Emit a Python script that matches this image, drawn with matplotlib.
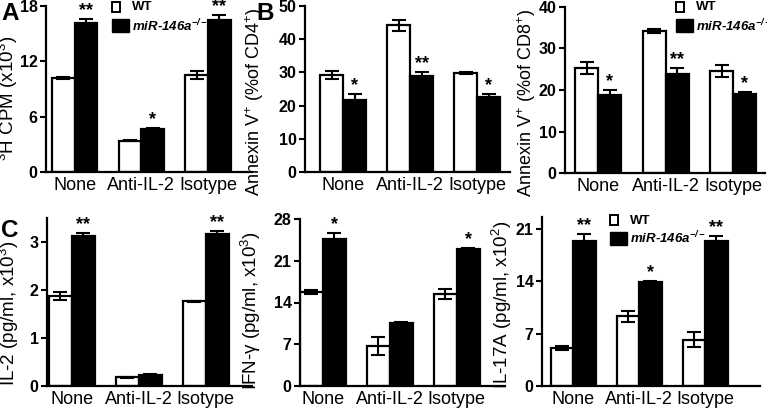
import numpy as np
import matplotlib
matplotlib.use("Agg")
from matplotlib import pyplot as plt
from matplotlib.patches import Rectangle

plt.rcParams['font.family'] = ['Liberation Sans', 'DejaVu Sans']
plt.rcParams['mathtext.default'] = 'regular'

groups = ["None", "Anti-IL-2", "Isotype"]

# A: 3H thymidine incorporation
cpm_wt = [10.2, 3.4, 10.5]
cpm_wt_err = [0.12, 0.08, 0.4]
cpm_ko = [16.2, 4.7, 16.5]
cpm_ko_err = [0.43, 0.08, 0.52]
cpm_sig = ["**", "*", "**"]

# B: Annexin V+ of CD4+
cd4_wt = [29.2, 44.2, 29.9]
cd4_wt_err = [1.2, 1.7, 0.3]
cd4_ko = [21.7, 28.8, 22.5]
cd4_ko_err = [1.7, 1.2, 1.0]
cd4_sig = ["*", "**", "*"]

# B: Annexin V+ of CD8+
cd8_wt = [25.3, 34.3, 24.6]
cd8_wt_err = [1.4, 0.5, 1.5]
cd8_ko = [18.8, 23.8, 19.0]
cd8_ko_err = [1.2, 1.4, 0.4]
cd8_sig = ["*", "**", "*"]

# C: IL-2
il2_wt = [1.88, 0.18, 1.77]
il2_wt_err = [0.08, 0.01, 0.01]
il2_ko = [3.12, 0.22, 3.16]
il2_ko_err = [0.07, 0.02, 0.07]
il2_sig = ["**", "", "**"]

# C: IFN-g
ifng_wt = [15.8, 6.7, 15.4]
ifng_wt_err = [0.3, 1.5, 0.8]
ifng_ko = [24.7, 10.6, 22.9]
ifng_ko_err = [1.0, 0.2, 0.3]
ifng_sig = ["*", "", "*"]

# C: IL-17A
il17_wt = [5.1, 9.3, 6.2]
il17_wt_err = [0.3, 0.7, 1.0]
il17_ko = [19.4, 13.9, 19.4]
il17_ko_err = [0.9, 0.1, 0.6]
il17_sig = ["**", "*", "**"]

W, H = 767, 408
fig = plt.figure(figsize=(W / 100, H / 100), dpi=100)


def px_axes(l, r, t, b):
    # pixel box -> figure fraction
    return fig.add_axes([l / W, 1 - b / H, (r - l) / W, (b - t) / H])


def panel(ax, wt, wt_err, ko, ko_err, sig, ymax, ticks, xlim,
          ylabel, lab_x, lab_y, lab_size):
    x = np.arange(len(groups))
    bw = 0.34
    ax.bar(x - bw / 2, wt, bw, color='white', edgecolor='black', linewidth=1.6, zorder=2)
    ax.bar(x + bw / 2, ko, bw, color='black', edgecolor='black', linewidth=1.6, zorder=2)
    ax.errorbar(x - bw / 2, wt, yerr=wt_err, fmt='none', ecolor='black',
                elinewidth=1.5, capsize=5, capthick=1.5, zorder=3)
    ax.errorbar(x + bw / 2, ko, yerr=ko_err, fmt='none', ecolor='black',
                elinewidth=1.5, capsize=5, capthick=1.5, zorder=3)
    for xi, v, e, s in zip(x + bw / 2, ko, ko_err, sig):
        if s:
            ax.text(xi, v + e, s, ha='center', va='bottom', fontsize=13,
                    fontweight='bold')
    ax.set_ylim(0, ymax)
    ax.set_xlim(*xlim)
    ax.set_yticks(ticks)
    ax.set_xticks(x)
    ax.set_xticklabels(groups, fontsize=13)
    ax.tick_params(axis='x', length=0, pad=3.5)
    ax.tick_params(axis='y', length=4, width=1.5, pad=2, labelsize=11.5)
    for lbl in ax.get_yticklabels():
        lbl.set_fontweight('bold')
    for sp in ['top', 'right']:
        ax.spines[sp].set_visible(False)
    for sp in ['left', 'bottom']:
        ax.spines[sp].set_linewidth(1.6)
    ax.set_ylabel(ylabel, fontsize=lab_size)
    ax.yaxis.set_label_coords(lab_x, lab_y)


def add_legend(x0, y0):
    # GraphPad style key: small open box, wider filled box
    fig.add_artist(Rectangle((x0 / W, 1 - (y0 + 10) / H), 8 / W, 10 / H,
                             transform=fig.transFigure, facecolor='white',
                             edgecolor='black', linewidth=1.4))
    fig.add_artist(Rectangle((x0 / W, 1 - (y0 + 30) / H), 17 / W, 13 / H,
                             transform=fig.transFigure, facecolor='black',
                             edgecolor='black', linewidth=1.0))
    fig.text((x0 + 20) / W, 1 - (y0 + 5.5) / H, 'WT', fontsize=9.5,
             fontweight='bold', va='center', ha='left')
    fig.text((x0 + 20) / W, 1 - (y0 + 23.5) / H, 'miR-146a$^{-/-}$', fontsize=9.5,
             fontweight='bold', fontstyle='italic', va='center', ha='left')


axA = px_axes(46, 252, 6, 172)
panel(axA, cpm_wt, cpm_wt_err, cpm_ko, cpm_ko_err, cpm_sig, 18, [0, 6, 12, 18],
      (-0.43, 2.66), '$^3$H CPM (x10$^3$)', -0.125, 0.445, 13.5)
add_legend(112, 2)

axB1 = px_axes(305, 510, 6, 172)
panel(axB1, cd4_wt, cd4_wt_err, cd4_ko, cd4_ko_err, cd4_sig, 50, [0, 10, 20, 30, 40, 50],
      (-0.57, 2.49), 'Annexin V$^{+}$ (%of CD4$^{+}$)', -0.19, 0.42, 13)

axB2 = px_axes(565, 765, 7, 173)
panel(axB2, cd8_wt, cd8_wt_err, cd8_ko, cd8_ko_err, cd8_sig, 40, [0, 10, 20, 30, 40],
      (-0.49, 2.47), 'Annexin V$^{+}$ (%of CD8$^{+}$)', -0.135, 0.42, 13)
add_legend(676, 2)

axC1 = px_axes(47, 252, 218, 386)
panel(axC1, il2_wt, il2_wt_err, il2_ko, il2_ko_err, il2_sig, 3.5, [0, 1, 2, 3],
      (-0.37, 2.69), 'IL-2 (pg/ml, x10$^3$)', -0.125, 0.43, 13.5)

axC2 = px_axes(300, 505, 219, 386)
panel(axC2, ifng_wt, ifng_wt_err, ifng_ko, ifng_ko_err, ifng_sig, 28, [0, 7, 14, 21, 28],
      (-0.34, 2.72), 'IFN-γ (pg/ml, x10$^3$)', -0.18, 0.45, 13.5)

axC3 = px_axes(542, 760, 217, 386)
panel(axC3, il17_wt, il17_wt_err, il17_ko, il17_ko_err, il17_sig, 22.6, [0, 7, 14, 21],
      (-0.47, 2.83), 'IL-17A (pg/ml, x10$^2$)', -0.13, 0.48, 13.5)
add_legend(610, 215)

for lab, xp, yp in [('A', 1, 2), ('B', 256, 2), ('C', 1, 219)]:
    fig.text(xp / W, 1 - yp / H, lab, fontsize=17.5, fontweight='bold',
             ha='left', va='top')

fig.savefig('out.png', dpi=100)
